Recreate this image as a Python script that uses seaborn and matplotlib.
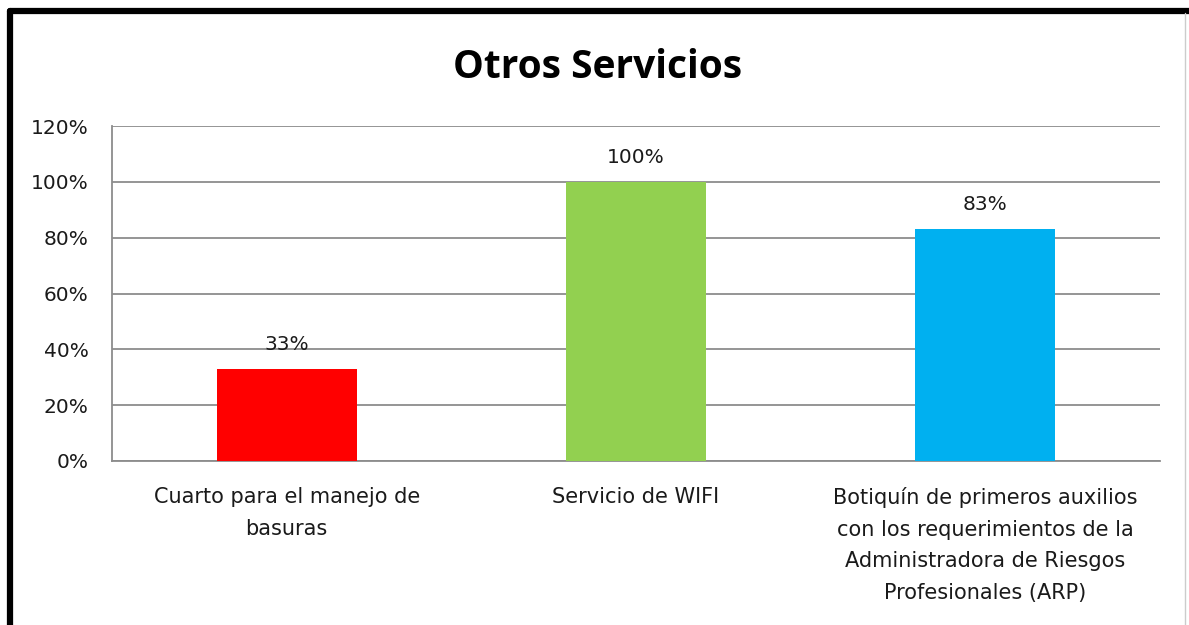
import matplotlib
matplotlib.use("Agg")
import matplotlib.pyplot as plt
import seaborn as sns
import pandas as pd
from matplotlib.lines import Line2D

categories = [
    "Cuarto para el manejo de\nbasuras",
    "Servicio de WIFI",
    "Botiquín de primeros auxilios\ncon los requerimientos de la\nAdministradora de Riesgos\nProfesionales (ARP)",
]
values = [33, 100, 83]
labels = ["33%", "100%", "83%"]
colors = ["#FF0000", "#92D050", "#00B0F0"]
yticks = [0, 20, 40, 60, 80, 100, 120]
title = "Otros Servicios"

sns.set_theme(style="white")
plt.rcParams['font.family'] = ['DejaVu Sans']

df = pd.DataFrame({"cat": categories, "val": values})

fig = plt.figure(figsize=(11.89, 6.25), dpi=100)
ax = fig.add_axes([112/1189, 1 - 461/625, (1160-112)/1189, (461-126)/625])

sns.barplot(data=df, x="cat", y="val", hue="cat", palette=colors, legend=False,
            width=0.4, ax=ax, saturation=1, zorder=3, linewidth=0)

ax.set_ylim(0, 120)
ax.set_yticks(yticks)
ax.set_yticklabels([f"{v}%" for v in yticks], fontsize=14.5, color="#1a1a1a")
ax.yaxis.grid(True, color="#8c8c8c", linewidth=1.3, zorder=0)
ax.set_axisbelow(True)
ax.set_xlabel("")
ax.set_ylabel("")
ax.tick_params(axis="x", labelsize=15, colors="#1a1a1a", pad=19, length=0)
ax.tick_params(axis="y", length=0, pad=17)
for lbl in ax.get_xticklabels():
    lbl.set_linespacing(1.72)
for s in ["top", "right"]:
    ax.spines[s].set_visible(False)
ax.spines["left"].set_color("#8c8c8c")
ax.spines["bottom"].set_color("#8c8c8c")
ax.spines["left"].set_linewidth(1.3)
ax.spines["bottom"].set_linewidth(1.3)

for i, (v, t) in enumerate(zip(values, labels)):
    ax.annotate(t, (i, v), xytext=(0, 11), textcoords="offset points",
                ha="center", va="bottom", fontsize=14.5, color="#1a1a1a")

fig.text(598/1189, 1 - 67/625, title, ha="center", va="center",
         fontsize=28, fontweight="bold", color="#000000", family="Open Sans")

# frame border
fig.add_artist(Line2D([10/1189, 1], [1 - 11/625, 1 - 11/625], color="black", linewidth=4.5,
                      transform=fig.transFigure))
fig.add_artist(Line2D([10/1189, 10/1189], [0, 1 - 11/625], color="black", linewidth=4.5,
                      transform=fig.transFigure))
fig.add_artist(Line2D([1185/1189, 1185/1189], [0, 1 - 13/625], color="#cccccc", linewidth=1,
                      transform=fig.transFigure))

fig.savefig("out.png", dpi=100)
